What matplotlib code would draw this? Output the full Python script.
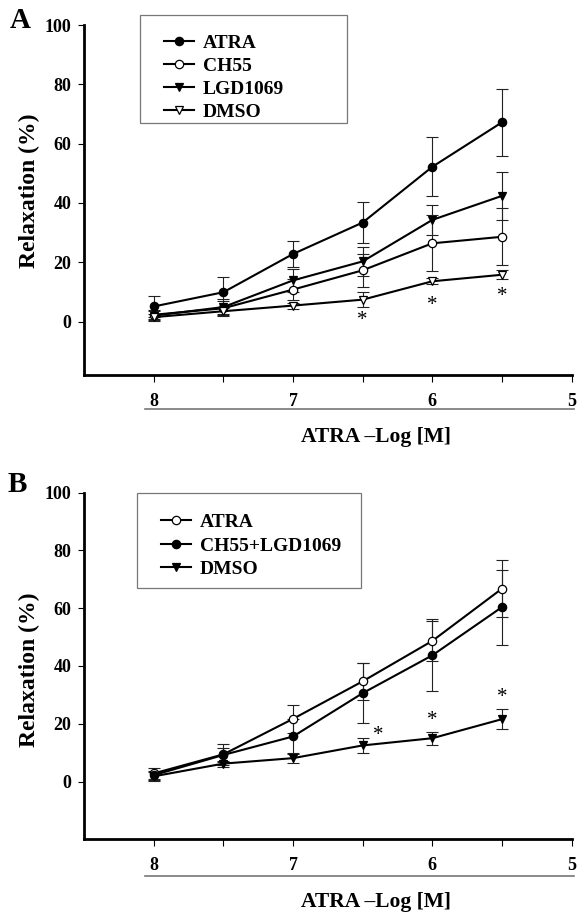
import matplotlib
matplotlib.use("Agg")
import matplotlib.pyplot as plt
from matplotlib.patches import Rectangle
from matplotlib.lines import Line2D

plt.rcParams["font.family"] = ["Liberation Serif", "DejaVu Serif"]
plt.rcParams["font.weight"] = "bold"

# -log[M] concentrations
conc = [8, 7.5, 7, 6.5, 6, 5.5]

# panel A
a_atra = [5.1, 9.9, 22.8, 33.4, 52.2, 67.2]
a_atra_err = [3.4, 5.0, 4.5, 7.0, 10.0, 11.2]
a_ch55 = [2.3, 4.5, 10.8, 17.3, 26.4, 28.6]
a_ch55_err = [1.5, 2.5, 3.5, 5.5, 9.4, 9.6]
a_lgd = [2.0, 4.9, 13.9, 20.3, 34.3, 42.4]
a_lgd_err = [1.5, 2.8, 3.9, 5.0, 5.0, 8.0]
a_dmso = [1.5, 3.5, 5.4, 7.4, 13.6, 15.8]
a_dmso_err = [1.2, 1.0, 1.0, 2.5, 1.0, 1.5]
a_star_x = [6.5, 6, 5.5]
a_star_y = [0.5, 5.5, 8.3]

# panel B
b_atra = [2.8, 9.4, 21.7, 34.7, 48.7, 66.8]
b_atra_err = [2.0, 3.6, 4.8, 6.3, 7.0, 9.8]
b_comb = [2.2, 9.2, 15.6, 30.6, 43.7, 60.4]
b_comb_err = [1.5, 2.5, 6.0, 10.5, 12.4, 13.0]
b_dmso = [1.8, 6.2, 8.1, 12.5, 15.0, 21.6]
b_dmso_err = [1.5, 1.0, 1.8, 2.5, 2.2, 3.5]
b_star_x = [6.39, 6, 5.5]
b_star_y = [15.9, 21.0, 29.0]

yticks = [0, 20, 40, 60, 80, 100]
xticks = [8, 7.5, 7, 6.5, 6, 5.5, 5]
xticklabels = ["8", "", "7", "", "6", "", "5"]

W, H = 580, 916
fig = plt.figure(figsize=(W / 100, H / 100), dpi=100)


def px(x0, y0, x1, y1):
    # pixel box -> figure fraction rect
    return [x0 / W, 1 - y1 / H, (x1 - x0) / W, (y1 - y0) / H]


def series(ax, y, err, marker, fill, label):
    ax.errorbar(conc, y, yerr=err, fmt="none", ecolor="#222222", elinewidth=0.8,
                capsize=4, capthick=0.8, zorder=2)
    ax.plot(conc, y, color="black", lw=1.5, marker=marker, markersize=6,
            markerfacecolor=fill, markeredgecolor="black", markeredgewidth=0.9,
            label=label, zorder=3)


def style(ax, ymin, xlab_y, uline_y, ylab_y):
    ax.set_xlim(8.5, 5)
    ax.set_ylim(ymin, 100)
    ax.spines["top"].set_visible(False)
    ax.spines["right"].set_visible(False)
    ax.spines["left"].set_linewidth(2)
    ax.spines["bottom"].set_linewidth(2)
    ax.set_yticks(yticks)
    ax.set_xticks(xticks)
    ax.set_xticklabels(xticklabels)
    ax.tick_params(axis="y", length=4, width=0.8, pad=5, labelsize=13)
    ax.tick_params(axis="x", length=5, width=0.8, pad=8, labelsize=13)
    for t in ax.get_xticklabels() + ax.get_yticklabels():
        t.set_fontweight("bold")
    ax.text(0.599, xlab_y, "ATRA \u2013Log [M]", transform=ax.transAxes,
            ha="center", va="center", fontsize=15.5, fontweight="bold")
    ax.add_line(Line2D([0.125, 1.005], [uline_y, uline_y], transform=ax.transAxes,
                       color="#777777", lw=1.2, clip_on=False))
    ax.text(-0.111, ylab_y, "Relaxation (%)", transform=ax.transAxes, rotation=90,
            ha="center", va="center", fontsize=17, fontweight="bold")


def stars(ax, xs, ys):
    for x, y in zip(xs, ys):
        ax.text(x, y, "*", ha="center", va="center", fontsize=15,
                fontweight="normal", zorder=4)


# ---- panel A
axA = fig.add_axes(px(84, 25, 571.7, 375))
series(axA, a_atra, a_atra_err, "o", "black", "ATRA")
series(axA, a_ch55, a_ch55_err, "o", "white", "CH55")
series(axA, a_lgd, a_lgd_err, "v", "black", "LGD1069")
series(axA, a_dmso, a_dmso_err, "v", "white", "DMSO")
stars(axA, a_star_x, a_star_y)
style(axA, -18, -0.177, -0.097, 0.526)

fig.patches.append(Rectangle((140 / W, 1 - 123 / H), 207 / W, 108 / H,
                             transform=fig.transFigure, fill=False,
                             edgecolor="#777777", lw=0.9))
axA.legend(loc="upper left", bbox_to_anchor=(164 / W, 1 - 34.5 / H),
           bbox_transform=fig.transFigure, frameon=False, fontsize=14,
           handlelength=1.55, handletextpad=0.45, labelspacing=0.27,
           borderpad=0, borderaxespad=0)

# ---- panel B
axB = fig.add_axes(px(84, 492.7, 571.7, 839.3))
series(axB, b_atra, b_atra_err, "o", "white", "ATRA")
series(axB, b_comb, b_comb_err, "o", "black", "CH55+LGD1069")
series(axB, b_dmso, b_dmso_err, "v", "black", "DMSO")
stars(axB, b_star_x, b_star_y)
style(axB, -20, -0.181, -0.106, 0.488)

fig.patches.append(Rectangle((137 / W, 1 - 588 / H), 224 / W, 95 / H,
                             transform=fig.transFigure, fill=False,
                             edgecolor="#777777", lw=0.9))
axB.legend(loc="upper left", bbox_to_anchor=(161 / W, 1 - 513.5 / H),
           bbox_transform=fig.transFigure, frameon=False, fontsize=14,
           handlelength=1.55, handletextpad=0.45, labelspacing=0.3,
           borderpad=0, borderaxespad=0)

fig.text(10 / W, 1 - 20 / H, "A", fontsize=21, fontweight="bold", va="center")
fig.text(8 / W, 1 - 485 / H, "B", fontsize=21, fontweight="bold", va="center")

fig.savefig("out.png", dpi=100)
